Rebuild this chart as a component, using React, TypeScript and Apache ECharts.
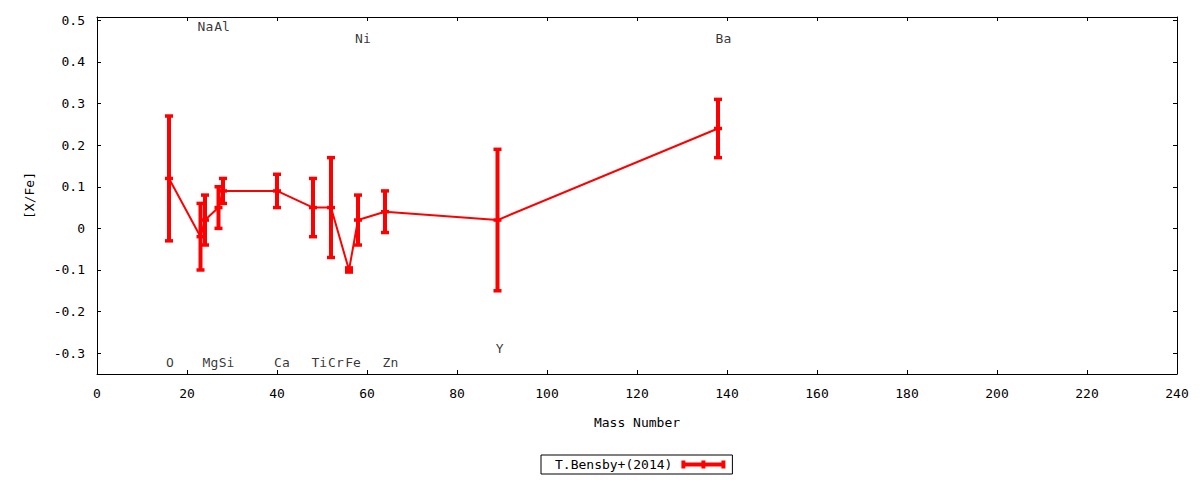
import React, { useEffect, useRef } from "react";
import * as echarts from "echarts";

const elements = ["O", "Na", "Mg", "Al", "Si", "Ca", "Ti", "Cr", "Fe", "Ni", "Zn", "Y", "Ba"];
const massNumbers = [16, 23, 24, 27, 28, 40, 48, 52, 56, 58, 64, 89, 138];
const abundances = [0.12, -0.02, 0.02, 0.05, 0.09, 0.09, 0.05, 0.05, -0.1, 0.02, 0.04, 0.02, 0.24];
const errors = [0.15, 0.08, 0.06, 0.05, 0.03, 0.04, 0.07, 0.12, 0.005, 0.06, 0.05, 0.17, 0.07];

// element name annotations (text anchors in data coordinates)
const labelX = [16.2, 24.1, 25.2, 27.8, 28.8, 41.1, 49.4, 53.1, 56.9, 59.1, 65.2, 89.5, 139.2];
const labelY = [-0.322, 0.485, -0.322, 0.485, -0.322, -0.322, -0.322, -0.322, -0.322, 0.457, -0.322, -0.288, 0.457];

const seriesName = "T.Bensby+(2014)";
const xTicks = { min: 0, max: 240, interval: 20 };
const yRange = { min: -0.35, max: 0.508 };

const FONT = "DejaVu Sans Mono";
const RED = "#ff0000";

export default function App() {
  const ref = useRef<HTMLDivElement>(null);

  useEffect(() => {
    document.body.style.margin = "0";
    if (!ref.current) return;
    const chart = echarts.init(ref.current, undefined, { renderer: "svg" });

    const errData = massNumbers.map((m, i) => [m, abundances[i], abundances[i] - errors[i], abundances[i] + errors[i]]);
    const lineData = massNumbers.map((m, i) => [m, abundances[i]]);
    const labelData = elements.map((e, i) => ({ name: e, value: [labelX[i], labelY[i]] }));

    const textStyle = { fontFamily: FONT, fontSize: 13, color: "#000" };
    const axisCommon = {
      axisLine: { show: true, onZero: false, lineStyle: { color: "#000", width: 1 } },
      axisTick: { show: true, inside: true, length: 4, lineStyle: { color: "#000", width: 1 } },
      splitLine: { show: false },
    };

    chart.setOption({
      animation: false,
      backgroundColor: "#fff",
      textStyle: { fontFamily: FONT },
      grid: { left: 97, right: 23, top: 17, bottom: 106, containLabel: false },
      legend: {
        data: [{ name: seriesName, icon: "path://M0,0h4v8h-4zM20,0h4v8h-4zM40,0h4v8h-4zM0,2h44v4h-44z" }],
        left: 541,
        top: 455,
        align: "right",
        padding: [3, 7, 3, 14],
        borderColor: "#000",
        borderWidth: 1,
        borderRadius: 0,
        itemWidth: 44,
        itemHeight: 8,
        selectedMode: false,
        textStyle: { ...textStyle, padding: [0, 4, 0, 0] },
      },
      xAxis: [
        {
          type: "value",
          position: "bottom",
          ...xTicks,
          ...axisCommon,
          axisLabel: { ...textStyle, margin: 13 },
          name: "Mass Number",
          nameLocation: "middle",
          nameGap: 42,
          nameTextStyle: textStyle,
        },
        {
          type: "value",
          position: "top",
          ...xTicks,
          ...axisCommon,
          axisLabel: { show: false },
        },
      ],
      yAxis: [
        {
          type: "value",
          position: "left",
          ...yRange,
          splitNumber: 8,
          ...axisCommon,
          axisLabel: { ...textStyle, margin: 12, showMinLabel: false, showMaxLabel: false },
          name: "[X/Fe]",
          nameLocation: "middle",
          nameGap: 61,
          nameTextStyle: textStyle,
        },
        {
          type: "value",
          position: "right",
          ...yRange,
          splitNumber: 8,
          ...axisCommon,
          axisLabel: { show: false },
        },
      ],
      series: [
        {
          name: "line",
          type: "line",
          data: lineData,
          showSymbol: false,
          symbol: "none",
          lineStyle: { color: RED, width: 2 },
          itemStyle: { color: RED },
          silent: true,
          z: 2,
        },
        {
          name: seriesName,
          type: "custom",
          data: errData,
          encode: { x: 0, y: [1, 2, 3] },
          itemStyle: { color: RED },
          z: 3,
          renderItem: (params: any, api: any) => {
            const x = api.value(0);
            const c = api.coord([x, api.value(1)]);
            const lo = api.coord([x, api.value(2)]);
            const hi = api.coord([x, api.value(3)]);
            const hw = 4;
            const capStyle = { stroke: RED, lineWidth: 3.5 };
            return {
              type: "group",
              children: [
                { type: "line", shape: { x1: c[0], y1: hi[1], x2: c[0], y2: lo[1] }, style: { stroke: RED, lineWidth: 4 } },
                { type: "line", shape: { x1: c[0] - hw, y1: hi[1], x2: c[0] + hw, y2: hi[1] }, style: capStyle },
                { type: "line", shape: { x1: c[0] - hw, y1: lo[1], x2: c[0] + hw, y2: lo[1] }, style: capStyle },
                { type: "line", shape: { x1: c[0] - hw, y1: c[1], x2: c[0] + hw, y2: c[1] }, style: capStyle },
              ],
            };
          },
        },
        {
          name: "labels",
          type: "scatter",
          data: labelData,
          symbolSize: 1,
          itemStyle: { color: "transparent" },
          silent: true,
          label: {
            show: true,
            position: "inside",
            formatter: "{b}",
            ...textStyle,
          },
          z: 4,
        },
      ],
    });

    return () => chart.dispose();
  }, []);

  return <div ref={ref} style={{ width: 1200, height: 480, position: "absolute", left: 0, top: 0 }} />;
}
